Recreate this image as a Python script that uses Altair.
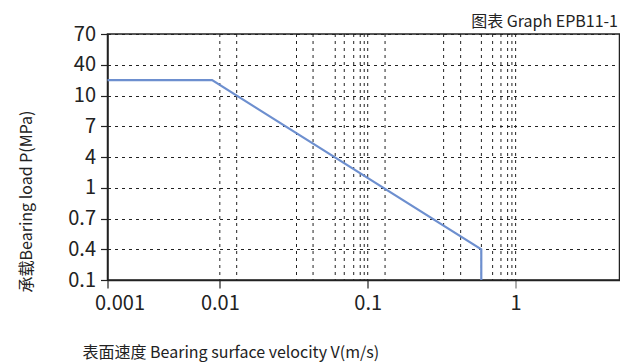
import altair as alt
import pandas as pd

FONT = "Noto Sans CJK SC"

# --- data ---
# y axis: evenly spaced category levels (index 0..8) with these labels
y_labels = ["0.1", "0.4", "0.7", "1", "4", "7", "10", "40", "70"]
# x axis (log): tick positions and their labels (first label sits on the left edge)
x_domain = [0.00174, 5.04]
x_tick_values = [0.00174, 0.01, 0.1, 1]
x_tick_labels = ["0.001", "0.01", "0.1", "1"]
# vertical dotted grid lines as drawn in the reference
grid_x = [0.01, 0.013, 0.033, 0.0427, 0.0603, 0.0694, 0.0804, 0.089, 0.0947, 0.1,
          0.131, 0.326, 0.425, 0.587, 0.699, 0.796, 0.883, 0.944, 1.0]
# PV limit line
line_v = [0.00174, 0.00887, 0.586, 0.586]
line_p_level = [6.5, 6.5, 1.0, 0.0]

title_text = "PV图表 Permissible PV value for CSB-EPB11"
graph_text = "图表 Graph EPB11-1"
x_title = "表面速度 Bearing surface velocity V(m/s)"
y_title = "承载Bearing load P(MPa)"

line_df = pd.DataFrame({"v": line_v, "p": line_p_level, "order": list(range(len(line_v)))})
grid_df = pd.DataFrame({"v": grid_x})

y_expr = "[" + ",".join("'%s'" % s for s in y_labels) + "][datum.value]"
x_expr = "''"
for v, lab in reversed(list(zip(x_tick_values, x_tick_labels))):
    x_expr = "abs(datum.value - %r) < %r ? '%s' : (%s)" % (v, v * 0.05, lab, x_expr)

x_scale = alt.Scale(type="log", domain=x_domain, nice=False)
y_scale = alt.Scale(domain=[0, 8], nice=False, zero=False)

x_axis = alt.Axis(
    values=x_tick_values, labelExpr=x_expr, grid=False,
    tickSize=8, tickWidth=1.2,
    tickColor={"condition": {"test": "datum.value >= 0.9", "value": "#777777"}, "value": "#222222"},
    labelOffset={"condition": {"test": "datum.value < 0.005", "value": 12}, "value": 0},
    domainColor="#222222", domainWidth=1.5,
    labelFont=FONT, labelFontSize=20, labelColor="#222222", labelPadding=5,
    labelFlush=False, labelOverlap=False,
    title=x_title, titleFont=FONT, titleFontSize=16, titleFontWeight="normal",
    titleColor="#222222", titleAnchor="start", titleAlign="left",
    titleX=-25.5, titleY=77, titleBaseline="alphabetic",
)
y_axis = alt.Axis(
    values=list(range(len(y_labels))), labelExpr=y_expr,
    grid=True, gridColor="#222222", gridDash=[3, 4], gridWidth=1,
    tickSize=7, tickWidth=1.2, tickColor="#222222",
    domainColor="#222222", domainWidth=1.5,
    labelFont=FONT, labelFontSize=20, labelColor="#222222", labelPadding=5,
    labelFlush=False, labelOverlap=False,
    title=y_title, titleFont=FONT, titleFontSize=16, titleFontWeight="normal",
    titleColor="#222222", titleAngle=-90, titleAlign="center",
    titleX=-76.5, titleY=167, titleBaseline="alphabetic",
)

grid = alt.Chart(grid_df).mark_rule(color="#222222", strokeDash=[3, 4], strokeWidth=1).encode(
    x=alt.X("v:Q", scale=x_scale, axis=x_axis),
)

line = alt.Chart(line_df).mark_line(color="#6d8fcf", strokeWidth=2.2).encode(
    x=alt.X("v:Q", scale=x_scale),
    y=alt.Y("p:Q", scale=y_scale, axis=y_axis),
    order="order:O",
)

label_df = pd.DataFrame({"t": [graph_text]})
graph_label = alt.Chart(label_df).mark_text(
    font=FONT, fontSize=16, color="#222222", align="right", baseline="alphabetic"
).encode(x=alt.value(510.5), y=alt.value(-7), text="t:N")

title_df = pd.DataFrame({"t": [title_text]})
title_mark = alt.Chart(title_df).mark_text(
    font=FONT, fontSize=19, color="#222222", align="left", baseline="alphabetic"
).encode(x=alt.value(-80), y=alt.value(-28), text="t:N")
square_mark = alt.Chart(pd.DataFrame({"t": ["■"]})).mark_text(
    font=FONT, fontSize=19, color="#5b7fc7", align="left", baseline="alphabetic"
).encode(x=alt.value(-108), y=alt.value(-28), text="t:N")

chart = alt.layer(grid, line, graph_label, title_mark, square_mark).properties(
    width=512,
    height=246,
    padding={"left": 99.5, "top": 26, "right": 0.5, "bottom": 90},
    autosize=alt.AutoSizeParams(type="none"),
    background="white",
).configure_view(stroke="#222222", strokeWidth=1.5)

chart.save("out.html", embed_options={"renderer": "svg", "actions": False})
